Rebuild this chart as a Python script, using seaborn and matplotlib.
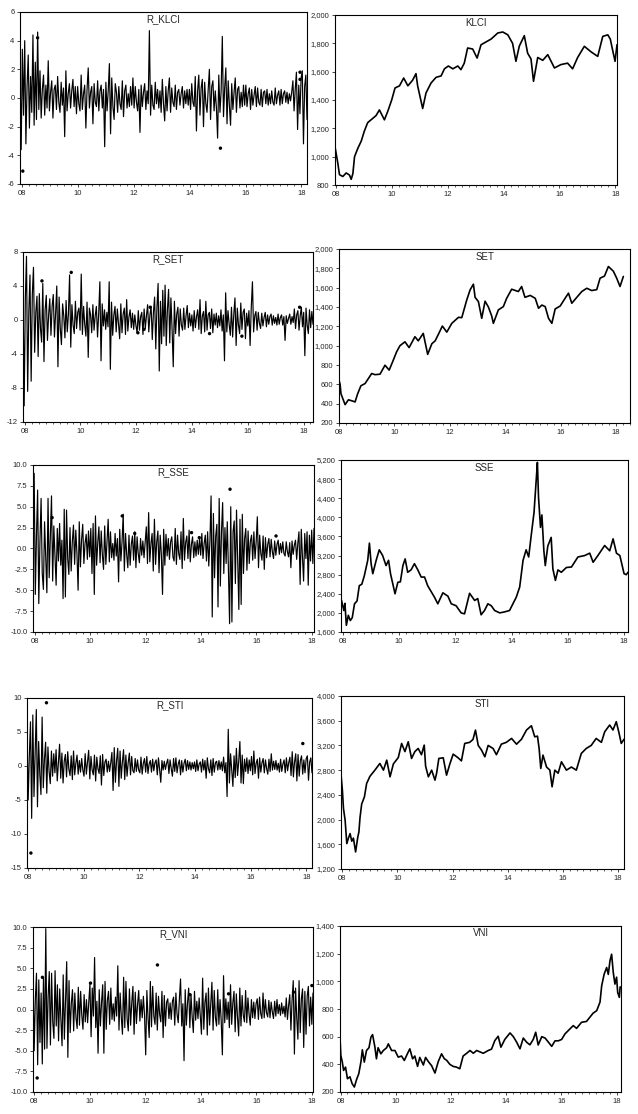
import numpy as np
import pandas as pd
import matplotlib
matplotlib.use('Agg')
import matplotlib.pyplot as plt
import seaborn as sns
from matplotlib.ticker import FuncFormatter, MultipleLocator

sns.set_style('ticks')
plt.rcParams['font.family'] = ['Liberation Sans', 'DejaVu Sans']

# ---------------- daily returns (thinned) ----------------
r_klci = [1.8, -3.6, 3.4, -1.2, 4.0, -3.2, 0.8, 3.0, -2.1, 1.5, -1.0, 4.4, -1.9, 2.5,
          -1.5, 4.6, -0.8, 1.9, -1.4, 0.6, 1.6, -1.2, 0.9, -0.7,
          2.6, -0.9, 0.4, 1.2, -1.4, 0.6, 0.9, -0.8, 1.5, -0.3, -1.0, 1.1, -0.5, 0.7, -2.7, 1.9, -0.9, 0.3, 1.0, -0.7, 0.5, 1.3, -0.6, 0.8,
          -1.1, 0.8, -0.4, -0.9, 1.6, -0.8, 0.3, 0.9, -2.1, 0.6, 2.1, -0.7, 0.4, 0.8, -1.8, 1.0, -0.3, -0.6, 1.2, -0.9, 0.5, 0.9, -0.7, 0.6,
          -3.4, 1.1, -0.9, 0.5, 2.4, -2.5, 1.4, -0.6, -1.5, 1.0, 0.4, -1.0, 0.8, -0.4, -0.8, 1.2, -1.3, 0.5, 0.9, -0.7, 0.3, -0.6, 0.8, -0.5,
          1.4, -0.7, 0.8, -0.3, -0.9, 0.6, -2.4, 0.9, -0.6, 0.4, 1.0, -0.8, 0.5, -0.4, 4.7, -1.2, 0.9, -0.5, -0.8, 1.1, -0.4, 0.6, -0.7, 0.5,
          -1.0, 1.3, -0.4, -1.6, 0.8, -0.9, 0.5, 1.4, -1.0, 0.7, -0.3, -0.6, 0.9, -0.8, 0.4, 0.6, -0.5, 0.3, 0.8, -0.7, 0.5, -0.4, 0.6, -0.5,
          0.6, -0.8, 1.0, -0.3, -0.6, 1.5, -2.3, 0.5, 1.6, -1.2, 0.7, 1.3, -2.0, 1.1, -0.4, -1.0, 0.6, 2.0, -1.5, 0.8, 1.2, -0.9, 0.5, -0.7,
          -2.8, 1.6, -1.0, 0.5, 4.3, -1.3, 0.7, 2.1, -1.8, 1.2, -0.5, -1.9, 1.0, -0.8, 0.4, 1.4, -1.0, 0.6, 0.8, -0.7, 0.4, -0.6, 0.9, -0.5,
          0.9, -0.6, 0.3, 0.7, -0.8, 0.6, -0.5, 0.2, 0.8, -0.6, 0.7, -0.3, -0.5, 0.6, -0.6, 0.4, 0.5, -0.4, 0.6, -0.5, 0.3, -0.4, 0.5, -0.3,
          -0.5, 0.7, -0.4, 0.2, 0.5, -0.5, 0.6, -0.4, 0.3, 0.5, -0.3, 0.4, -0.4, 0.3, -0.2, 0.4, 1.2, -0.9, 0.6, 1.8, -2.2, 0.9, -1.1, 1.4,
          1.9, -3.2, 0.8, 1.6, -1.5]
r_set = [4.0, -10.1, 2.5, 7.5, -8.4, 1.0, 5.3, -7.2, 3.0,
         6.2, -3.8, 0.9, 2.8, -4.3, 3.1, -1.0, -2.6, 4.3, -4.9, 1.2, 2.9, -2.4, 0.6, 2.5, -1.8, 1.6,
         3.0, -2.0, 0.8, 4.0, -5.5, 2.7, -1.0, -2.9, 1.9, 0.5, -2.1, 2.3, -1.4, 0.7, 5.3, -3.2, 1.8, -0.6, -1.6, 2.2, -1.0, 0.9, 1.4, -1.2,
         5.4, -1.7, 1.6, -0.5, -1.9, 2.1, -4.4, 1.4, 0.6, -1.5, 1.8, -1.2, 0.5, 1.6, -2.0, 0.8, 4.5, -4.8, 1.9, -0.7, 1.2, -1.1, 0.9, -0.8,
         4.5, -5.8, 2.1, -1.8, 0.6, 1.6, -1.4, 1.3, -0.5, -2.2, 1.9, -1.5, 0.7, 1.4, -1.7, 2.4, -1.3, 0.4, 1.2, -0.9, 0.8, -1.1, 0.6, -0.7,
         -1.5, 1.1, -1.2, 0.4, 0.9, -1.7, 1.3, -1.0, 0.5, 1.8, -1.4, 0.6, 1.6, -2.3, 0.9, 2.7, -3.4, 1.5, 4.3, -6.0, 2.2, -2.8, 3.5, -1.9,
         4.1, -3.0, 1.2, 3.6, -2.7, 2.6, -1.1, -5.5, 2.2, -1.6, 0.7, 1.5, -1.9, 1.3, -0.6, -1.2, 1.4, -1.1, 0.5, 1.7, -0.9, 0.8, -0.7, 0.6,
         -1.3, 1.1, -0.9, 0.4, 1.2, -1.1, 2.4, -1.6, 0.5, 1.0, -1.4, 2.2, -1.2, 0.6, 0.9, -1.0, 1.3, -1.5, 0.7, -0.6, 0.8, -0.9, 0.5, -0.7,
         1.2, -1.3, 0.6, -4.8, 3.2, -1.4, 1.1, -0.5, -1.8, 1.5, -2.0, 0.7, 2.6, -3.0, 1.4, -0.6, -1.6, 2.0, -1.1, 0.9, 1.3, -2.2, 0.8, -0.7,
         1.1, -3.0, 1.5, 4.5, -1.4, 0.5, 1.0, -1.2, 0.9, -0.4, -1.0, 0.8, -0.7, 0.3, 0.9, -0.8, 0.6, -0.5, 0.4, 0.7, -0.6, 0.5, -0.4, 0.3,
         -0.6, 0.7, -0.5, 0.3, 0.6, -0.6, 0.4, -2.4, 0.5, -0.4, 0.2, 0.7, -0.5, 0.4, -0.3, 1.3, -1.0, 0.6, 1.1, -1.2, 0.5, 1.5, -0.8, 0.9,
         -4.2, 1.4, -0.6, -1.6, 1.2, -0.9, 1.0, -0.5]
r_sse = [3.5, 9.0, -5.5, 1.5, 7.0, -6.6, 0.8, 6.0, -3.0,
         -4.9, 3.2, -1.0, -5.3, 6.0, -3.5, 1.5, 6.3, -3.9, 2.7, -0.8, -4.4, 2.4, -1.5, 3.0, -2.0, 1.0,
         -6.0, 4.7, -5.8, 4.6, -1.2, -3.1, 2.5, -2.7, 0.8, 2.8, -1.9, 2.2, -0.6, -5.0, 3.2, -2.2, 1.0, 2.9, -1.8, 0.6, 1.7, -1.3, 2.1, -1.0,
         2.4, -3.0, 3.0, -5.5, 3.9, -2.0, 0.7, 2.6, -1.7, 2.1, -0.8, -2.5, 2.7, -1.9, 0.9, 3.5, -1.6, 2.0, -1.1, 0.6, -1.4, 1.8, -0.9, 1.2,
         -4.0, 2.3, -1.5, 0.8, 4.1, -2.7, 1.8, -0.7, -2.3, 1.6, -2.0, 0.5, 1.5, -1.4, 2.0, -2.3, 1.4, -0.6, -1.7, 1.2, -0.8, 0.9, -1.1, 0.7,
         2.6, -1.8, 4.3, -1.6, 0.6, 1.8, -2.7, 3.5, -1.9, 0.8, 2.1, -2.9, 1.6, -0.7, -5.5, 2.3, -2.0, 1.7, -0.9, 1.2, -1.3, 0.8, 1.4, -1.0,
         -1.5, 2.4, -1.9, 1.6, -0.6, -1.3, 2.0, -2.4, 3.6, -1.4, 0.7, 1.5, -1.2, 2.2, -1.6, 0.5, 1.4, -1.1, 0.8, -0.9, 1.0, -0.7, 1.2, -0.8,
         1.8, -1.2, 0.6, 1.6, -1.5, 2.0, -2.1, 0.9, 6.3, -8.2, 4.2, -3.5, 1.5, 2.9, -7.0, 6.0, -4.5, 2.0, 5.5, -3.0, 2.5, -1.8, 3.2, -2.6,
         -9.0, 5.0, -8.8, 2.0, 3.3, -4.2, 4.6, -1.5, -7.3, 3.5, -6.7, 4.1, -3.0, 1.2, 2.4, -2.6, 2.1, -1.8, 0.9, 1.6, -1.4, 2.0, -1.2, 0.8,
         3.8, -2.3, 1.6, -0.6, -1.4, 1.5, -2.5, 1.3, -1.1, 0.5, 1.2, -1.0, 1.1, -0.4, -1.2, 0.9, -0.8, 0.5, 1.0, -0.7, 0.6, -0.5, 0.8, -0.6,
         -0.9, 0.8, -0.4, -1.0, 0.7, -2.3, 0.9, -0.7, 0.4, 1.0, -1.3, 0.6, 2.0, -4.3, 2.3, -1.0, -3.9, 1.8, -1.2, 2.0, -4.4, 1.6, -1.5, 2.2,
         -1.8, 2.4]
r_sti = [5.5, -5.0, 1.5, 6.5, -7.7, 7.5, -4.5, 2.0,
         8.3, -6.0, 3.6, -1.2, -4.2, 7.2, -3.2, 1.0, 3.5, -4.0, 2.8, -0.8, -2.6, 2.2, -1.5, 1.8, -1.0,
         2.4, -2.2, 0.6, 3.2, -1.8, 1.9, -2.5, 0.7, 1.7, -1.6, 2.1, -0.5, -1.4, 1.5, -2.0, 2.2, -1.3, 0.4, 1.6, -1.2, 0.8, -0.9, 1.1, -0.6,
         -1.5, 1.8, -1.2, 0.5, 2.3, -1.9, 1.4, -0.6, -1.3, 1.6, -2.2, 1.3, -0.4, -1.1, 1.5, -2.8, 1.7, -1.4, 0.6, 1.0, -0.9, 0.7, -0.8, 0.5,
         2.0, -3.6, 2.7, -2.4, 0.8, 2.6, -3.0, 2.2, -1.8, 0.6, 2.4, -2.0, 1.6, -1.5, 0.5, 1.9, -1.3, 1.4, -0.7, -1.0, 1.1, -0.8, 0.9, -0.6,
         -1.0, 1.3, -1.2, 0.4, 1.1, -0.9, 1.4, -1.1, 0.3, 0.8, -0.9, 1.0, -0.7, 0.5, 0.9, -1.3, 1.2, -0.5, -2.4, 0.8, -0.6, 0.7, -0.5, 0.4,
         1.0, -1.1, 0.9, -0.4, -1.5, 1.1, -0.8, 1.2, -1.0, 0.3, 0.9, -1.3, 0.8, -0.9, 0.4, 1.0, -0.7, 0.8, -0.5, 0.6, -0.6, 0.5, -0.4, 0.6,
         -0.8, 0.9, -0.7, 0.3, 0.6, -0.9, 1.0, -0.6, 0.8, -1.8, 1.2, -0.4, -1.0, 0.9, -1.4, 1.1, -0.9, 0.5, 0.7, -0.6, 0.8, -0.5, 0.6, -0.7,
         1.3, -1.0, 0.5, -4.5, 5.4, -2.5, 1.8, -0.6, -3.0, 1.5, -1.7, 2.6, -1.4, 0.7, 3.6, -2.5, 1.6, -2.6, 1.0, -0.8, 1.2, -1.1, 0.9, -0.7,
         1.4, -1.3, 2.2, -1.1, 0.4, 1.0, -1.8, 1.2, -0.9, 0.5, 1.1, -1.0, 0.9, -0.4, -1.2, 1.0, -0.8, 1.8, -0.6, 0.7, -0.5, 0.8, -0.6, 0.4,
         -0.9, 1.0, -0.8, 0.3, 0.9, -1.0, 1.2, -0.7, 0.5, 1.3, -1.4, 2.1, -1.6, 0.6, 1.8, -2.2, 1.7, -1.5, 0.8, 1.5, -1.2, 0.9, -1.0, 1.1,
         1.5, -2.1, 0.6, 1.2, -1.0]
r_vni = [4.7, -5.0, 1.2, 4.4, -6.7, 3.6, -4.0, 2.0,
         -6.6, 3.8, -4.8, 9.8, -4.7, 1.5, 4.6, -4.3, 4.4, -1.5, -3.5, 4.7, -2.0, 3.0, -3.8, 2.5, -1.2,
         -4.4, 4.2, -3.6, 1.0, 5.8, -5.8, 3.5, -2.8, 0.8, 2.4, -2.6, 2.0, -1.0, -2.3, 2.7, -1.9, 2.2, -0.7, -2.4, 1.8, -1.5, 1.2, -1.6, 0.9,
         3.1, -3.3, 2.6, -0.8, 6.3, -2.2, 1.0, -5.3, 2.4, -2.0, 0.9, 3.0, -5.3, 3.4, -2.4, 1.1, 2.2, -1.8, 2.6, -1.2, 0.7, -1.4, 1.5, -0.8,
         5.3, -2.5, 2.0, -0.9, -3.0, 3.9, -2.2, 3.4, -1.1, -2.6, 2.5, -1.9, 0.8, 2.8, -3.0, 2.1, -1.7, 0.6, 2.3, -1.4, 1.2, -1.0, 1.6, -0.7,
         -5.5, 2.3, -1.0, -3.4, 3.4, -2.1, 2.8, -0.8, -1.8, 2.0, -2.5, 1.6, -0.6, -1.5, 2.2, -3.4, 1.7, -2.0, 0.9, 1.3, -1.1, 0.8, -1.2, 1.0,
         1.5, -1.9, 2.0, -0.6, -1.6, 1.3, 3.7, -2.0, 0.7, -6.2, 2.4, -1.9, 0.8, 2.6, -2.2, 1.8, -0.9, -2.8, 2.2, -1.3, 1.0, -1.1, 1.4, -0.8,
         -3.0, 3.8, -2.4, 0.9, 2.0, -3.1, 2.6, -1.9, 0.7, 3.3, -2.5, 2.3, -1.0, -2.0, 2.4, -1.8, 1.2, -1.4, -5.5, 4.1, -1.6, 1.3, -1.2, 0.9,
         -2.2, 3.0, -1.8, 0.8, 2.2, -2.7, 1.9, -0.9, -3.2, 2.6, -2.0, 1.7, -0.7, -1.5, 2.3, -1.6, 1.4, -0.6, -1.9, 1.2, -1.0, 0.9, -1.1, 0.7,
         1.3, -1.2, 1.5, -0.5, -1.1, 2.0, -1.0, 1.2, -0.4, -0.9, 1.1, -1.0, 0.9, -0.3, -1.1, 1.0, -0.8, 1.2, -0.5, 0.6, -0.7, 0.8, -0.5, 0.4,
         -0.9, 1.4, -1.2, 0.5, 1.8, -2.5, 1.2, 3.5, -5.4, 2.6, -1.0, -3.6, 3.5, -2.8, 1.3, 2.5, -4.6, 2.2, -3.0, 1.6, 2.8, -2.0, 1.5, -1.8,
         2.0]

# isolated observations drawn as dots
klci_dot_t = [2008.02, 2008.55, 2015.1, 2017.95, 2017.95]
klci_dot_v = [-5.1, 4.2, -3.5, 1.8, 1.3]
set_dot_t = [2008.62, 2009.67, 2012.06, 2012.28, 2012.5, 2014.63, 2015.79, 2017.86]
set_dot_v = [4.6, 5.6, -1.5, -1.1, 1.5, -1.6, -1.9, 1.5]
sse_dot_t = [2008.63, 2011.16, 2011.61, 2013.66, 2013.94, 2015.05, 2016.71]
sse_dot_v = [3.7, 3.9, 1.8, 1.9, 1.3, 7.1, 1.5]
sti_dot_t = [2008.1, 2008.66, 2017.87]
sti_dot_v = [-12.8, 9.3, 3.3]
vni_dot_t = [2008.11, 2008.3, 2010.03, 2012.44, 2013.61, 2015.0, 2017.34, 2018.0]
vni_dot_v = [-8.3, 3.9, 3.2, 5.4, 1.8, 1.9, 2.1, 2.9]

# ---------------- index levels ----------------
klci_t = [2007.96, 2008.06, 2008.12, 2008.24, 2008.36, 2008.48, 2008.54, 2008.6, 2008.66, 2008.78,
          2008.9, 2009.01, 2009.13, 2009.25, 2009.43, 2009.55, 2009.73, 2009.85, 2009.99, 2010.11,
          2010.27, 2010.42, 2010.57, 2010.74, 2010.86, 2010.92, 2011.1, 2011.22, 2011.4, 2011.58,
          2011.76, 2011.88, 2012.02, 2012.18, 2012.36, 2012.47, 2012.59, 2012.71, 2012.89, 2013.05,
          2013.19, 2013.37, 2013.55, 2013.79, 2013.97, 2014.15, 2014.32, 2014.44, 2014.56, 2014.74,
          2014.86, 2014.98, 2015.07, 2015.22, 2015.4, 2015.58, 2015.82, 2016.05, 2016.29, 2016.47,
          2016.65, 2016.89, 2017.13, 2017.37, 2017.55, 2017.73, 2017.82, 2017.9, 2017.99, 2018.06]
klci_v = [1070, 955, 873, 860, 885, 870, 840, 880, 1000, 1060,
          1110, 1180, 1240, 1260, 1290, 1330, 1260, 1320, 1400, 1485,
          1500, 1555, 1500, 1540, 1586, 1500, 1340, 1450, 1520, 1560,
          1570, 1620, 1640, 1620, 1640, 1614, 1660, 1767, 1760, 1696,
          1790, 1810, 1830, 1873, 1880, 1860, 1800, 1673, 1780, 1854,
          1730, 1690, 1532, 1700, 1680, 1720, 1626, 1650, 1660, 1620,
          1700, 1779, 1740, 1708, 1849, 1860, 1830, 1755, 1673, 1790]
set_t = [2008.0, 2008.04, 2008.07, 2008.16, 2008.22, 2008.34, 2008.46, 2008.58, 2008.67, 2008.79,
         2008.94, 2009.06, 2009.18, 2009.3, 2009.48, 2009.66, 2009.81, 2009.93, 2010.08, 2010.2,
         2010.38, 2010.53, 2010.74, 2010.86, 2011.04, 2011.2, 2011.35, 2011.47, 2011.59, 2011.73,
         2011.89, 2012.07, 2012.31, 2012.43, 2012.61, 2012.73, 2012.85, 2012.91, 2013.03, 2013.15,
         2013.27, 2013.39, 2013.51, 2013.57, 2013.75, 2013.93, 2014.05, 2014.23, 2014.47, 2014.59,
         2014.71, 2014.9, 2015.08, 2015.2, 2015.32, 2015.44, 2015.56, 2015.68, 2015.8, 2015.98,
         2016.16, 2016.28, 2016.4, 2016.58, 2016.76, 2016.94, 2017.12, 2017.3, 2017.42, 2017.58,
         2017.72, 2017.9, 2018.02, 2018.14, 2018.26]
set_v = [643, 600, 504, 435, 390, 440, 430, 418, 500, 585,
         608, 660, 712, 700, 705, 798, 747, 830, 937, 1000,
         1040, 980, 1093, 1050, 1127, 910, 1020, 1050, 1120, 1203,
         1140, 1231, 1293, 1290, 1473, 1577, 1636, 1500, 1456, 1283,
         1460, 1400, 1307, 1231, 1370, 1404, 1490, 1584, 1560, 1612,
         1500, 1520, 1490, 1387, 1420, 1404, 1283, 1231, 1380, 1410,
         1491, 1543, 1439, 1500, 1560, 1594, 1570, 1580, 1698, 1720,
         1819, 1770, 1698, 1612, 1716]
sse_t = [2007.96, 2008.04, 2008.08, 2008.13, 2008.2, 2008.27, 2008.34, 2008.42, 2008.51, 2008.59,
         2008.68, 2008.77, 2008.89, 2008.95, 2009.01, 2009.07, 2009.19, 2009.3, 2009.42, 2009.54,
         2009.63, 2009.7, 2009.78, 2009.86, 2009.96, 2010.05, 2010.14, 2010.22, 2010.31, 2010.43,
         2010.55, 2010.67, 2010.79, 2010.91, 2011.02, 2011.14, 2011.26, 2011.38, 2011.56, 2011.74,
         2011.86, 2012.03, 2012.21, 2012.33, 2012.51, 2012.69, 2012.8, 2012.92, 2013.04, 2013.16,
         2013.28, 2013.4, 2013.58, 2013.75, 2013.93, 2014.05, 2014.17, 2014.29, 2014.41, 2014.52,
         2014.61, 2014.7, 2014.8, 2014.88, 2014.92, 2014.96, 2015.03, 2015.08, 2015.15, 2015.2,
         2015.29, 2015.41, 2015.47, 2015.56, 2015.65, 2015.77, 2015.95, 2016.13, 2016.36, 2016.6,
         2016.78, 2016.9, 2017.07, 2017.31, 2017.49, 2017.61, 2017.73, 2017.85, 2017.93, 2018.0,
         2018.08, 2018.14]
sse_v = [2260, 2050, 2200, 1740, 1950, 1840, 1900, 2190, 2250, 2570,
         2600, 2780, 3100, 3460, 3030, 2820, 3100, 3320, 3200, 2990,
         3100, 2820, 2610, 2400, 2640, 2650, 2990, 3130, 2850, 2900,
         3030, 2900, 2750, 2750, 2570, 2450, 2330, 2190, 2420, 2350,
         2190, 2150, 2000, 1980, 2410, 2260, 2300, 1960, 2050, 2190,
         2150, 2050, 2000, 2020, 2050, 2190, 2330, 2540, 3100, 3320,
         3170, 3620, 4100, 4800, 5150, 4420, 3790, 4050, 3300, 2990,
         3400, 3580, 2920, 2680, 2900, 2850, 2950, 2960, 3170, 3200,
         3250, 3060, 3200, 3410, 3300, 3550, 3250, 3200, 3000, 2820,
         2800, 2850]
sti_t = [2007.95, 2008.0, 2008.04, 2008.1, 2008.16, 2008.22, 2008.28, 2008.34, 2008.4, 2008.48,
         2008.56, 2008.6, 2008.64, 2008.7, 2008.8, 2008.88, 2009.0, 2009.18, 2009.36, 2009.49,
         2009.61, 2009.73, 2009.85, 2010.03, 2010.15, 2010.27, 2010.39, 2010.51, 2010.63, 2010.75,
         2010.87, 2010.97, 2011.02, 2011.12, 2011.24, 2011.36, 2011.42, 2011.5, 2011.66, 2011.78,
         2011.9, 2012.02, 2012.2, 2012.32, 2012.44, 2012.62, 2012.74, 2012.83, 2012.93, 2013.05,
         2013.17, 2013.29, 2013.47, 2013.59, 2013.77, 2013.95, 2014.14, 2014.32, 2014.5, 2014.68,
         2014.86, 2014.98, 2015.08, 2015.14, 2015.2, 2015.28, 2015.41, 2015.53, 2015.61, 2015.71,
         2015.83, 2015.95, 2016.13, 2016.31, 2016.49, 2016.67, 2016.85, 2017.03, 2017.21, 2017.4,
         2017.52, 2017.7, 2017.82, 2017.94, 2018.04, 2018.12, 2018.22]
sti_v = [2735, 2476, 2178, 1989, 1611, 1700, 1773, 1650, 1700, 1476,
         1719, 1800, 2032, 2250, 2368, 2584, 2700, 2800, 2908, 2800,
         2962, 2692, 2900, 3005, 3232, 3100, 3259, 2989, 3100, 3151,
         3050, 3205, 2865, 2692, 2800, 2638, 2750, 2989, 3000, 2719,
         2900, 3059, 3000, 2950, 3232, 3250, 3297, 3448, 3200, 3124,
         3016, 3200, 3150, 3050, 3221, 3250, 3313, 3220, 3300, 3448,
         3519, 3340, 3350, 3151, 2827, 3043, 2850, 2800, 2530, 2800,
         2750, 2935, 2800, 2850, 2800, 3070, 3151, 3200, 3313, 3250,
         3421, 3530, 3450, 3584, 3400, 3232, 3300]
vni_t = [2007.98, 2008.01, 2008.06, 2008.11, 2008.18, 2008.25, 2008.34, 2008.42, 2008.5, 2008.58,
         2008.66, 2008.74, 2008.79, 2008.86, 2008.94, 2009.03, 2009.1, 2009.16, 2009.24, 2009.3,
         2009.36, 2009.46, 2009.55, 2009.67, 2009.73, 2009.85, 2009.97, 2010.09, 2010.21, 2010.31,
         2010.43, 2010.51, 2010.61, 2010.69, 2010.79, 2010.87, 2011.0, 2011.08, 2011.18, 2011.3,
         2011.42, 2011.54, 2011.66, 2011.76, 2011.84, 2011.96, 2012.08, 2012.2, 2012.32, 2012.44,
         2012.57, 2012.69, 2012.81, 2012.93, 2013.05, 2013.17, 2013.35, 2013.47, 2013.59, 2013.71,
         2013.81, 2013.95, 2014.14, 2014.26, 2014.38, 2014.5, 2014.62, 2014.74, 2014.86, 2014.98,
         2015.07, 2015.16, 2015.29, 2015.41, 2015.53, 2015.65, 2015.77, 2015.89, 2016.01, 2016.13,
         2016.31, 2016.43, 2016.55, 2016.73, 2016.91, 2017.03, 2017.15, 2017.28, 2017.4, 2017.46,
         2017.55, 2017.64, 2017.7, 2017.76, 2017.82, 2017.88, 2017.94, 2018.0, 2018.04, 2018.1,
         2018.13]
vni_v = [596, 464, 420, 356, 380, 296, 310, 260, 236, 290,
         332, 420, 505, 416, 500, 520, 596, 615, 530, 440,
         520, 476, 500, 520, 548, 500, 500, 452, 460, 428,
         480, 512, 440, 460, 385, 450, 395, 450, 420, 390,
         337, 420, 476, 440, 430, 400, 385, 380, 368, 460,
         480, 500, 480, 500, 490, 480, 500, 510, 572, 603,
         524, 580, 627, 600, 560, 512, 590, 560, 541, 580,
         632, 540, 600, 590, 560, 530, 570, 570, 580, 620,
         656, 680, 660, 704, 710, 740, 770, 788, 850, 968,
         1052, 1100, 1050, 1148, 1196, 1064, 980, 1030, 920, 884,
         960]

W, H = 638, 1114
fig = plt.figure(figsize=(W / 100, H / 100), dpi=100)


def box(l, t, r, b):
    return [l / W, 1 - b / H, (r - l) / W, (b - t) / H]


def style(ax, title, xlim, ylim, ystep, fmt):
    ax.set_xlim(*xlim)
    ax.set_ylim(*ylim)
    ax.set_xticks(range(2008, 2019, 2))
    ax.set_xticklabels(['08', '10', '12', '14', '16', '18'])
    ax.xaxis.set_minor_locator(MultipleLocator(0.25))
    ax.yaxis.set_major_locator(MultipleLocator(ystep))
    ax.yaxis.set_major_formatter(FuncFormatter(lambda v, p: fmt.format(v)))
    ax.tick_params(axis='both', which='major', labelsize=5.5, length=2.5, width=0.6, pad=1.5)
    ax.tick_params(axis='x', which='minor', length=1.5, width=0.5)
    ax.set_xlabel('')
    ax.set_ylabel('')
    for s in ax.spines.values():
        s.set_visible(True)
        s.set_linewidth(0.8)
        s.set_color('black')
    ax.text(0.5, 0.985, title, transform=ax.transAxes, ha='center', va='top', fontsize=7)


panels = [
    # returns: title, values, dots, box, xlim, ylim, step, fmt
    ('R_KLCI', r_klci, (klci_dot_t, klci_dot_v), (20, 12, 307, 184), (2007.92, 2018.2), (-6, 6), 2, '{:.0f}'),
    ('R_SET', r_set, (set_dot_t, set_dot_v), (23, 252, 313, 422), (2007.94, 2018.34), (-12, 8), 4, '{:.0f}'),
    ('R_SSE', r_sse, (sse_dot_t, sse_dot_v), (33, 465, 314, 632), (2007.94, 2018.08), (-10, 10), 2.5, '{:.1f}'),
    ('R_STI', r_sti, (sti_dot_t, sti_dot_v), (27, 698, 312, 868), (2007.96, 2018.2), (-15, 10), 5, '{:.0f}'),
    ('R_VNI', r_vni, (vni_dot_t, vni_dot_v), (33, 927, 313, 1092), (2007.96, 2018.04), (-10, 10), 2.5, '{:.1f}'),
]
for title, vals, dots, b, xl, yl, step, fmt in panels:
    ax = fig.add_axes(box(*b))
    t = np.linspace(xl[0], xl[1], len(vals))
    sns.lineplot(x=t, y=vals, ax=ax, color='black', linewidth=0.85, estimator=None)
    sns.scatterplot(x=dots[0], y=dots[1], ax=ax, color='black', s=6, edgecolor='none')
    style(ax, title, xl, yl, step, fmt)

levels = [
    ('KLCI', klci_t, klci_v, (335, 15, 617, 185), (2007.96, 2018.06), (800, 2000), 200),
    ('SET', set_t, set_v, (339, 249, 630, 423), (2008.0, 2018.5), (200, 2000), 200),
    ('SSE', sse_t, sse_v, (341, 460, 628, 632), (2007.94, 2018.14), (1600, 5200), 400),
    ('STI', sti_t, sti_v, (341, 696, 624, 869), (2007.95, 2018.22), (1200, 4000), 400),
    ('VNI', vni_t, vni_v, (340, 926, 621, 1092), (2007.98, 2018.16), (200, 1400), 200),
]
for title, t, v, b, xl, yl, step in levels:
    ax = fig.add_axes(box(*b))
    df = pd.DataFrame({'year': t, 'level': v})
    sns.lineplot(data=df, x='year', y='level', ax=ax, color='black', linewidth=1.2, estimator=None)
    style(ax, title, xl, yl, step, '{:,.0f}')

fig.savefig('out.png', dpi=100, facecolor='white')
